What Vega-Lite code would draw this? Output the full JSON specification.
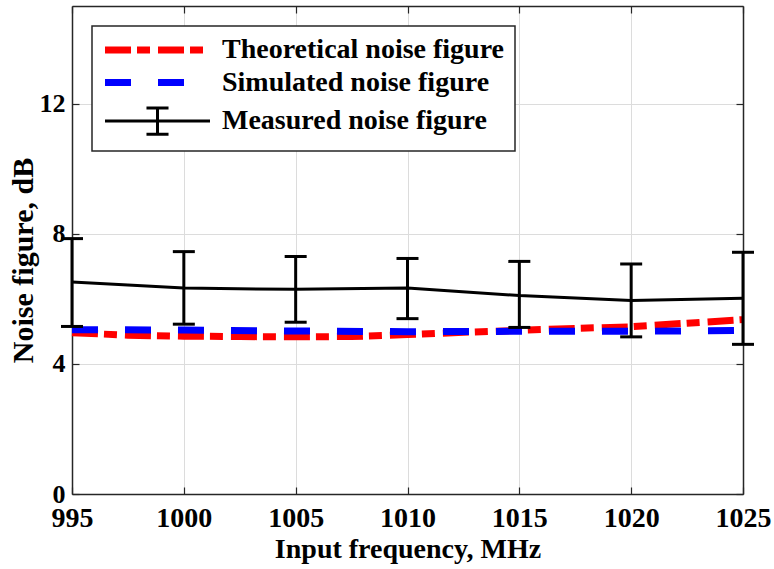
{
  "$schema": "https://vega.github.io/schema/vega-lite/v6.json",
  "width": 671,
  "height": 488,
  "autosize": {"type": "none"},
  "padding": {"left": 72, "top": 6, "right": 31, "bottom": 75},
  "background": "white",
  "config": {
    "view": {"stroke": null},
    "font": "Times New Roman, Liberation Serif, DejaVu Serif, serif",
    "legend": {
      "orient": "none",
      "legendX": 20,
      "legendY": 20,
      "padding": 10,
      "strokeColor": "#262626",
      "fillColor": "white",
      "labelFont": "Times New Roman, Liberation Serif, DejaVu Serif, serif",
      "labelFontWeight": "bold",
      "labelFontSize": 28,
      "labelColor": "black",
      "labelLimit": 500,
      "symbolSize": 11025,
      "symbolType": "stroke",
      "symbolOffset": 41.5,
      "labelOffset": 50.5,
      "rowPadding": 4.5
    }
  },
  "datasets": {
    "theo": [
      {"f": 995, "nf": 4.96, "series": "Theoretical noise figure"},
      {"f": 997.5, "nf": 4.88, "series": "Theoretical noise figure"},
      {"f": 1000, "nf": 4.85, "series": "Theoretical noise figure"},
      {"f": 1002.5, "nf": 4.84, "series": "Theoretical noise figure"},
      {"f": 1005, "nf": 4.83, "series": "Theoretical noise figure"},
      {"f": 1007.5, "nf": 4.84, "series": "Theoretical noise figure"},
      {"f": 1010, "nf": 4.9, "series": "Theoretical noise figure"},
      {"f": 1012.5, "nf": 4.97, "series": "Theoretical noise figure"},
      {"f": 1015, "nf": 5.03, "series": "Theoretical noise figure"},
      {"f": 1017.5, "nf": 5.09, "series": "Theoretical noise figure"},
      {"f": 1020, "nf": 5.14, "series": "Theoretical noise figure"},
      {"f": 1022.5, "nf": 5.25, "series": "Theoretical noise figure"},
      {"f": 1025, "nf": 5.36, "series": "Theoretical noise figure"}
    ],
    "sim": [
      {"f": 995, "nf": 5.05, "series": "Simulated noise figure"},
      {"f": 1000, "nf": 5.04, "series": "Simulated noise figure"},
      {"f": 1005, "nf": 5.01, "series": "Simulated noise figure"},
      {"f": 1010, "nf": 4.99, "series": "Simulated noise figure"},
      {"f": 1015, "nf": 5.0, "series": "Simulated noise figure"},
      {"f": 1020, "nf": 5.0, "series": "Simulated noise figure"},
      {"f": 1025, "nf": 5.03, "series": "Simulated noise figure"}
    ],
    "meas": [
      {"f": 995, "nf": 6.52, "lo": 5.15, "hi": 7.85, "series": "Measured noise figure"},
      {"f": 1000, "nf": 6.33, "lo": 5.22, "hi": 7.45, "series": "Measured noise figure"},
      {"f": 1005, "nf": 6.29, "lo": 5.28, "hi": 7.3, "series": "Measured noise figure"},
      {"f": 1010, "nf": 6.33, "lo": 5.39, "hi": 7.24, "series": "Measured noise figure"},
      {"f": 1015, "nf": 6.1, "lo": 5.12, "hi": 7.15, "series": "Measured noise figure"},
      {"f": 1020, "nf": 5.95, "lo": 4.83, "hi": 7.07, "series": "Measured noise figure"},
      {"f": 1025, "nf": 6.02, "lo": 4.6, "hi": 7.43, "series": "Measured noise figure"}
    ]
  },
  "resolve": {"axis": {"x": "independent", "y": "independent"}},
  "layer": [
    {
      "data": {"name": "theo"},
      "mark": {"type": "line", "strokeWidth": 7, "strokeDash": [26, 6, 13, 8], "strokeCap": "butt"},
      "encoding": {
        "x": {
          "field": "f", "type": "quantitative",
          "scale": {"domain": [995, 1025], "nice": false, "zero": false},
          "axis": {
            "orient": "bottom",
            "values": [995, 1000, 1005, 1010, 1015, 1020, 1025],
            "format": "d",
            "title": "Input frequency, MHz",
            "grid": true, "gridColor": "#dcdcdc", "gridWidth": 1,
            "domain": true, "domainColor": "#262626", "domainWidth": 1.5,
            "ticks": true, "tickSize": -7, "tickColor": "#262626", "tickWidth": 1.2,
            "labelFont": "Times New Roman, Liberation Serif, DejaVu Serif, serif", "labelFontSize": 28, "labelFontWeight": "bold", "labelColor": "black",
            "labelBaseline": "alphabetic", "labelPadding": 39, "labelFlush": false, "labelOverlap": false,
            "titleFont": "Times New Roman, Liberation Serif, DejaVu Serif, serif", "titleFontSize": 28, "titleFontWeight": "bold", "titleColor": "black",
            "titleBaseline": "alphabetic", "titleY": 63
          }
        },
        "y": {
          "field": "nf", "type": "quantitative",
          "scale": {"domain": [0, 15], "nice": false},
          "axis": {
            "orient": "left",
            "values": [0, 4, 8, 12],
            "title": "Noise figure, dB",
            "grid": true, "gridColor": "#dcdcdc", "gridWidth": 1,
            "domain": true, "domainColor": "#262626", "domainWidth": 1.5,
            "ticks": true, "tickSize": -7, "tickColor": "#262626", "tickWidth": 1.2,
            "labelFont": "Times New Roman, Liberation Serif, DejaVu Serif, serif", "labelFontSize": 26, "labelFontWeight": "bold", "labelColor": "black",
            "labelBaseline": "middle", "labelPadding": 14, "labelFlush": false, "labelOverlap": false,
            "titleFont": "Times New Roman, Liberation Serif, DejaVu Serif, serif", "titleFontSize": 30, "titleFontWeight": "bold", "titleColor": "black",
            "titleBaseline": "alphabetic", "titleX": -40, "titleY": 254, "titleAngle": -90
          }
        },
        "color": {
          "field": "series", "type": "nominal",
          "scale": {
            "domain": ["Theoretical noise figure", "Simulated noise figure", "Measured noise figure"],
            "range": ["#ff0000", "#0000ff", "#000000"]
          },
          "legend": {
            "title": null,
            "encode": {
              "legend": {"update": {"strokeWidth": {"value": 1.5}}},
              "symbols": {
                "update": {
                  "strokeDash": {"signal": "datum.value === 'Theoretical noise figure' ? [26,6,13,8] : datum.value === 'Simulated noise figure' ? [26,27] : [1,0]"},
                  "strokeWidth": {"signal": "datum.value === 'Measured noise figure' ? 3 : 7"},
                  "shape": {"signal": "datum.value === 'Measured noise figure' ? 'M-1,0H1M0,-0.25V0.25M-0.21,-0.25H0.21M-0.21,0.25H0.21' : 'stroke'"}
                }
              }
            }
          }
        }
      }
    },
    {
      "data": {"name": "sim"},
      "mark": {"type": "line", "strokeWidth": 7, "strokeDash": [26, 27], "strokeCap": "butt"},
      "encoding": {
        "x": {
          "field": "f", "type": "quantitative",
          "axis": {
            "orient": "top", "values": [995, 1000, 1005, 1010, 1015, 1020, 1025],
            "title": null, "labels": false, "grid": false,
            "domain": true, "domainColor": "#262626", "domainWidth": 1.5,
            "ticks": true, "tickSize": -7, "tickColor": "#262626", "tickWidth": 1.2
          }
        },
        "y": {
          "field": "nf", "type": "quantitative",
          "axis": {
            "orient": "right", "values": [0, 4, 8, 12],
            "title": null, "labels": false, "grid": false,
            "domain": true, "domainColor": "#262626", "domainWidth": 1.5,
            "ticks": true, "tickSize": -7, "tickColor": "#262626", "tickWidth": 1.2
          }
        },
        "color": {"field": "series", "type": "nominal"}
      }
    },
    {
      "data": {"name": "meas"},
      "mark": {"type": "line", "strokeWidth": 3},
      "encoding": {
        "x": {"field": "f", "type": "quantitative", "axis": null},
        "y": {"field": "nf", "type": "quantitative", "axis": null},
        "color": {"field": "series", "type": "nominal"}
      }
    },
    {
      "data": {"name": "meas"},
      "mark": {"type": "rule", "strokeWidth": 3, "color": "black"},
      "encoding": {
        "x": {"field": "f", "type": "quantitative", "axis": null},
        "y": {"field": "lo", "type": "quantitative", "axis": null},
        "y2": {"field": "hi"}
      }
    },
    {
      "data": {"name": "meas"},
      "mark": {"type": "tick", "orient": "horizontal", "size": 22, "thickness": 3, "color": "black", "opacity": 1},
      "encoding": {
        "x": {"field": "f", "type": "quantitative", "axis": null},
        "y": {"field": "hi", "type": "quantitative", "axis": null}
      }
    },
    {
      "data": {"name": "meas"},
      "mark": {"type": "tick", "orient": "horizontal", "size": 22, "thickness": 3, "color": "black", "opacity": 1},
      "encoding": {
        "x": {"field": "f", "type": "quantitative", "axis": null},
        "y": {"field": "lo", "type": "quantitative", "axis": null}
      }
    }
  ]
}
